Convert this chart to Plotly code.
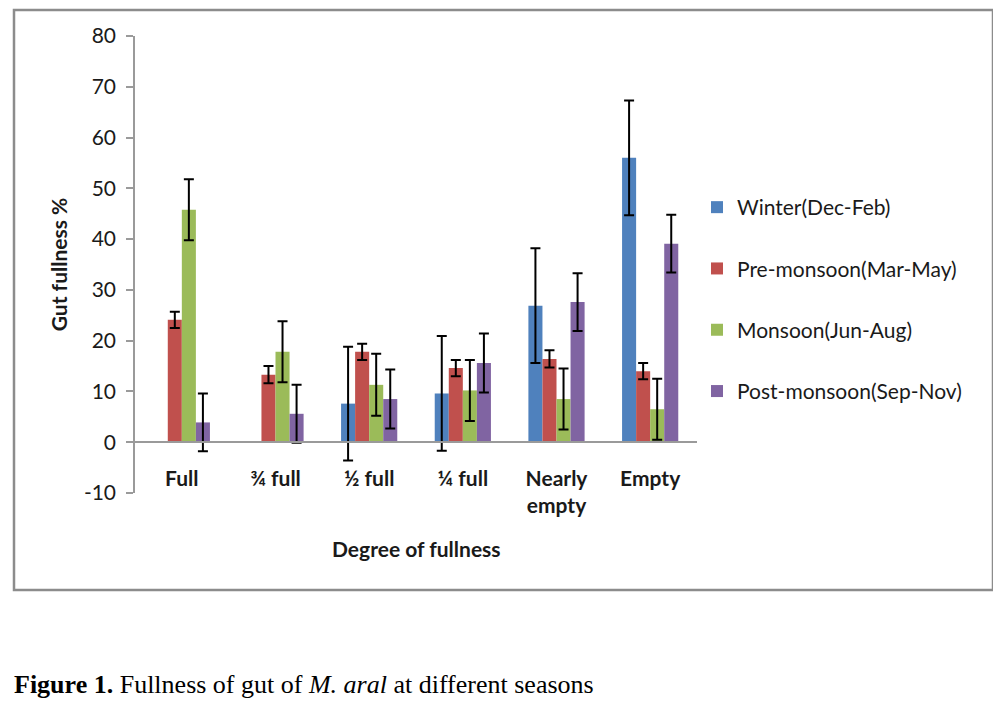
import plotly.graph_objects as go

categories = ["Full", "¾ full", "½ full", "¼ full", "Nearly<br>empty", "Empty"]
series_names = ["Winter(Dec-Feb)", "Pre-monsoon(Mar-May)", "Monsoon(Jun-Aug)", "Post-monsoon(Sep-Nov)"]
winter = [None, None, 7.6, 9.6, 26.9, 56.0]
pre_monsoon = [24.1, 13.3, 17.8, 14.6, 16.4, 14.0]
monsoon = [45.8, 17.8, 11.3, 10.2, 8.5, 6.5]
post_monsoon = [3.9, 5.6, 8.5, 15.6, 27.6, 39.1]
winter_err = [0, 0, 11.2, 11.3, 11.3, 11.3]
pre_monsoon_err = [1.6, 1.7, 1.6, 1.6, 1.7, 1.6]
monsoon_err = [6.0, 6.0, 6.1, 6.0, 6.0, 6.0]
post_monsoon_err = [5.7, 5.7, 5.8, 5.8, 5.7, 5.7]
y_tickvals = [-10, 0, 10, 20, 30, 40, 50, 60, 70, 80]
y_ticktext = ["-10", "0", "10", "20", "30", "40", "50", "60", "70", "80"]

colors = ["#4F81BD", "#C0504D", "#9BBB59", "#8064A2"]
values = [winter, pre_monsoon, monsoon, post_monsoon]
errors = [winter_err, pre_monsoon_err, monsoon_err, post_monsoon_err]

FONT = "Lato"
FS = 21
TXT = "#1a1a1a"

fig = go.Figure()
for i, (name, v, e) in enumerate(zip(series_names, values, errors)):
    fig.add_trace(go.Bar(
        x=categories, y=v, name=name,
        marker=dict(color=colors[i], line=dict(width=0)),
        error_y=dict(type="data", array=e, visible=True, color="black",
                     thickness=2, width=5),
        legendgroup=f"g{i}",
    ))

# page body has an 8px margin; work in screen pixels and convert
OFF = 8
W, H = 1001 - OFF, 707 - OFF
L, R, T, B = 135 - OFF, 697 - OFF, 36 - OFF, 493 - OFF
pw, ph = R - L, B - T

def px(x):
    return (x - OFF - L) / pw

def py(y):
    return (B - (y - OFF)) / ph

fig.update_layout(
    width=W, height=H,
    margin=dict(l=L, r=W - R, t=T, b=H - B),
    paper_bgcolor="white", plot_bgcolor="white",
    barmode="group", bargap=0.4, bargroupgap=0,
    font=dict(family=FONT, size=FS, color=TXT),
    showlegend=True,
    legend=dict(x=px(697), y=py(187), xanchor="left", yanchor="top",
                font=dict(family=FONT, size=FS, color=TXT),
                tracegroupgap=31, traceorder="grouped",
                bgcolor="rgba(0,0,0,0)"),
    xaxis=dict(
        type="category", anchor="free", position=py(442),
        showline=True, linecolor="#9a9a9a", linewidth=1.5,
        ticks="", showgrid=False,
        tickfont=dict(family=FONT, size=FS, color=TXT, weight="bold"),
        ticklabelstandoff=18,
    ),
    yaxis=dict(
        range=[-10, 80], tickvals=y_tickvals, ticktext=y_ticktext,
        showline=True, linecolor="#9a9a9a", linewidth=1.5,
        ticks="outside", ticklen=7, tickcolor="#9a9a9a", tickwidth=1.5,
        showgrid=False, zeroline=False,
        tickfont=dict(family=FONT, size=FS, color=TXT),
        ticklabelstandoff=6,
        title=dict(text="Gut fullness %", font=dict(family=FONT, size=FS, weight="bold", color=TXT),
                   standoff=11),
    ),
    shapes=[dict(type="rect", xref="paper", yref="paper",
                 x0=px(14), x1=px(993), y0=py(590), y1=py(10),
                 line=dict(color="#8c8c8c", width=2.5), layer="below")],
    annotations=[
        dict(text="<b>Degree of fullness</b>", xref="paper", yref="paper",
             x=0.5, y=py(548), xanchor="center", yanchor="middle", showarrow=False,
             font=dict(family=FONT, size=FS, color=TXT)),
        dict(text="<b>Figure 1.</b> Fullness of gut of <i>M. aral</i> at different seasons",
             xref="paper", yref="paper", x=px(12), y=py(685), xanchor="left", yanchor="middle",
             showarrow=False, font=dict(family="Liberation Serif", size=26, color="black")),
    ],
)

fig.write_html("out.html")
